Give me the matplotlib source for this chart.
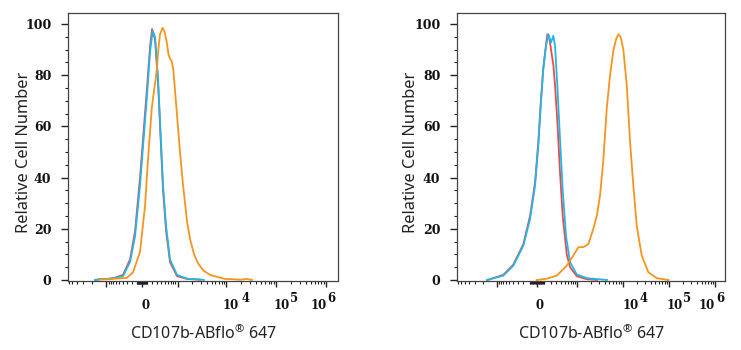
import numpy as np
import matplotlib
matplotlib.use("Agg")
import matplotlib.pyplot as plt

# fluorescence intensity (CD107b-ABflo 647) vs relative cell number, per sample
# left panel
left_red_x = [-1744, -1372, -836, -642, -399, -234, -132, -37, 18, 93, 152, 192,
              256, 325, 392, 454, 545, 676, 972, 1580, 2925]
left_red_y = [0, 0.3, 0.5, 0.9, 2, 8, 19, 40, 55, 75, 91, 98,
              94, 77, 54, 35, 19, 7, 1.5, 0.4, 0.1]
left_blue_x = [-1744, -1372, -836, -642, -399, -234, -132, -37, 18, 93, 152, 206,
               256, 325, 392, 454, 545, 676, 972, 1580, 2925, 3500]
left_blue_y = [0, 0.3, 0.5, 0.8, 1.5, 7, 17, 37, 52, 72, 89, 97.4,
               95, 78.5, 56, 37, 21, 8, 2, 0.5, 0.2, 0]
left_orange_x = [-1372, -836, -642, -308, -172, -37, 56, 112, 186, 234, 267, 301,
                 332, 373, 440, 498, 564, 625, 676, 740, 807, 879, 986, 1127,
                 1308, 1580, 1828, 2208, 2664, 3368, 4660, 6450, 9350, 13560,
                 18760, 25900, 32700]
left_orange_y = [0.2, 0.3, 0.5, 0.8, 3, 11, 29, 47, 67, 74, 78, 83,
                 90, 96, 98.5, 97, 93, 88, 86.5, 85.5, 82, 74, 63, 50,
                 37, 23, 16, 10, 6.5, 3.8, 2, 1.2, 0.4, 0.3,
                 0.1, 0.4, 0]

# right panel
right_red_x = [-1630, -1400, -701, -400, -199, -96, -27, 17.5, 50, 86, 126, 145,
               172, 205, 245, 277, 323, 383, 449, 565, 675, 961, 1604, 2700]
right_red_y = [0, 0.3, 2, 6, 14, 25, 38, 54, 69, 83, 92, 96,
               95, 90, 84, 76, 62, 42, 25, 10, 5, 1.5, 0.3, 0]
right_blue_x = [-1630, -1400, -701, -400, -199, -96, -27, 17.5, 50, 86, 126, 161,
                205, 245, 277, 323, 383, 449, 544, 675, 961, 1604, 4455]
right_blue_y = [0, 0.3, 1.7, 5.6, 13.4, 23.8, 36.8, 52.5, 68, 82.4, 91.5, 96,
                92.8, 95.4, 91.5, 76, 55, 35, 17, 7, 2.2, 0.7, 0]
right_orange_x = [-5, 136, 311, 565, 802, 1045, 1350, 1739, 2238, 2657, 3135, 3700,
                  4387, 5170, 6100, 6980, 7830, 8830, 10050, 11930, 14050, 16570,
                  19640, 25200, 35040, 53300, 95200]
right_orange_y = [0, 0.5, 1.7, 5.6, 9.5, 12.8, 12.8, 14, 20, 25, 33, 47,
                  67, 80, 89.6, 94, 96, 94.8, 90, 76, 54, 36.8,
                  21, 9.5, 3, 0.7, 0]

RED = "#ee4a4a"
BLUE = "#1fb8e6"
ORANGE = "#f7941d"
SPINE = "#444444"

plt.rcParams["mathtext.fontset"] = "custom"
plt.rcParams["mathtext.rm"] = "Noto Sans"


def biex_scale(c):
    ln10 = np.log(10)

    def fwd(x):
        return np.arcsinh(np.asarray(x, dtype=float) / (2 * c)) / ln10

    def inv(y):
        return 2 * c * np.sinh(np.asarray(y, dtype=float) * ln10)

    return fwd, inv


def style_panel(ax, c, xlim, label_shift, ylabel_x):
    ax.set_xscale("function", functions=biex_scale(c))
    ax.set_xlim(*xlim)
    ax.set_ylim(-0.4, 104.3)

    majors = [-1000, 0, 1000, 1e4, 1e5, 1e6]
    minors = []
    for e in range(1, 6):
        for m in range(1, 10):
            for s in (-1, 1):
                v = s * m * 10 ** e
                if v not in majors and xlim[0] < v < xlim[1]:
                    minors.append(v)
    ax.set_xticks(majors)
    ax.set_xticks(sorted(minors), minor=True)
    ax.set_xticklabels([""] * len(majors))

    ax.set_yticks(range(0, 101, 20))
    ax.set_yticks(range(0, 101, 5), minor=True)

    ax.tick_params(axis="x", which="major", direction="out", length=4.5, width=1.0,
                   color="#222222")
    ax.tick_params(axis="x", which="minor", direction="out", length=2.5, width=0.8,
                   color="#222222")
    ax.tick_params(axis="y", which="major", direction="out", length=5, width=1.0,
                   color="#222222", pad=7, labelsize=9)
    ax.tick_params(axis="y", which="minor", direction="out", length=2.5, width=0.8,
                   color="#222222")
    for lbl in ax.get_yticklabels():
        lbl.set_fontfamily("DejaVu Serif")
        lbl.set_fontweight("bold")
        lbl.set_color("#111111")

    for sp in ax.spines.values():
        sp.set_color(SPINE)
        sp.set_linewidth(0.9)

    # x tick labels: 0 and powers of ten with full-size raised exponents
    tr = ax.get_xaxis_transform()
    font = dict(family="DejaVu Serif", weight="bold", size=8.5, color="#111111")
    ax.annotate("0", xy=(0, 0), xycoords=tr, xytext=(label_shift[0], -28),
                textcoords="offset pixels", ha="center", va="baseline", **font)
    for e, (dx_base, dx_exp) in zip((4, 5, 6), label_shift[1:]):
        ax.annotate("10", xy=(10 ** e, 0), xycoords=tr, xytext=(dx_base, -28),
                    textcoords="offset pixels", ha="center", va="baseline", **font)
        ax.annotate(str(e), xy=(10 ** e, 0), xycoords=tr, xytext=(dx_exp, -21),
                    textcoords="offset pixels", ha="center", va="baseline", **font)

    ax.set_xlabel(r"CD107b-ABflo$^{\circledR}$ 647", family="Noto Sans", size=11.5,
                  color="#222222", labelpad=23)
    ax.set_ylabel("Relative Cell Number", family="Noto Sans", size=11.8,
                  color="#222222")
    ax.yaxis.set_label_coords(ylabel_x, 0.48)


fig = plt.figure(figsize=(7.41, 3.5), dpi=100)
W, H = 741, 350
ax1 = fig.add_axes([68 / W, (H - 281) / H, 270 / W, 268 / H])
ax2 = fig.add_axes([457 / W, (H - 281) / H, 268 / W, 268 / H])

for ax, curves in (
    (ax1, [(left_red_x, left_red_y, RED), (left_blue_x, left_blue_y, BLUE),
           (left_orange_x, left_orange_y, ORANGE)]),
    (ax2, [(right_red_x, right_red_y, RED), (right_blue_x, right_blue_y, BLUE),
           (right_orange_x, right_orange_y, ORANGE)]),
):
    for xs, ys, col in curves:
        ax.plot(xs, ys, color=col, linewidth=1.3, solid_joinstyle="round")

style_panel(ax1, 200, (-6160, 1.75e6),
            [3.5, (4.5, 19), (5, 18), (-7.5, 5.5)], -0.135)
style_panel(ax2, 135, (-7340, 1.61e6),
            [3, (7, 20.5), (5.5, 17.5), (-8.5, 4.5)], -0.14)

fig.savefig("out.png", dpi=100)
